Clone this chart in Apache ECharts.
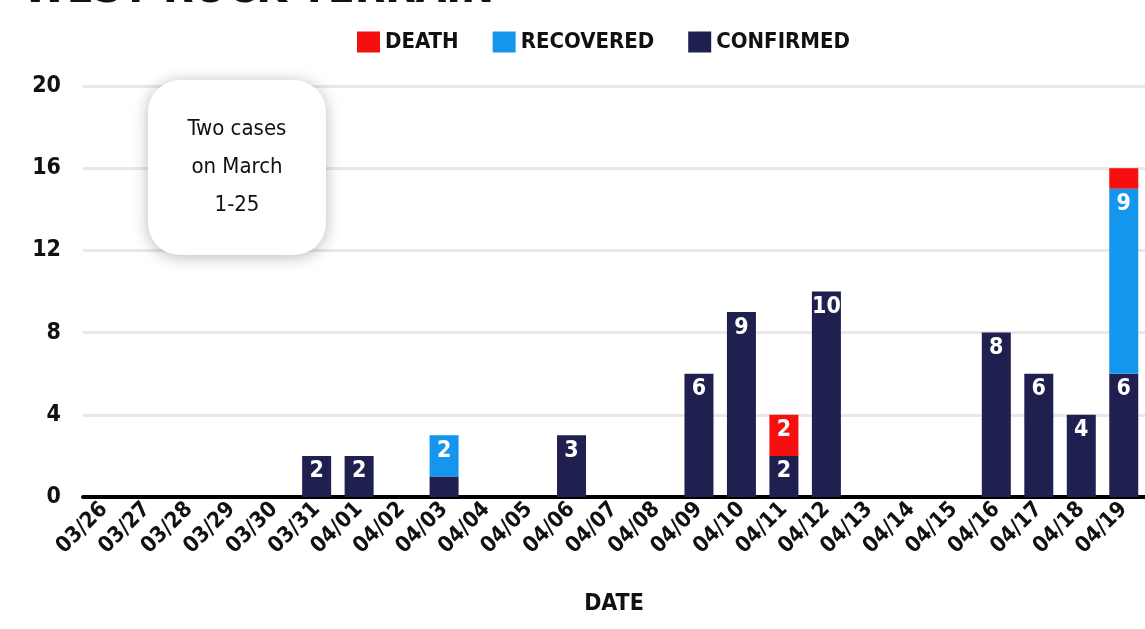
<!DOCTYPE html>
<html>
<head>
<meta charset="utf-8">
<script src="https://cdn.jsdelivr.net/npm/echarts@6/dist/echarts.min.js"></script>
<style>
html,body{margin:0;padding:0;background:#fff;}
#chart{width:1145px;height:629px;}
</style>
</head>
<body>
<div id="chart"></div>
<script>
const dates = ['03/26','03/27','03/28','03/29','03/30','03/31','04/01','04/02','04/03','04/04','04/05','04/06','04/07','04/08','04/09','04/10','04/11','04/12','04/13','04/14','04/15','04/16','04/17','04/18','04/19'];
const confirmed = [0,0,0,0,0,2,2,0,1,0,0,3,0,0,6,9,2,10,0,0,0,8,6,4,6];
const recovered = [0,0,0,0,0,0,0,0,2,0,0,0,0,0,0,0,0,0,0,0,0,0,0,0,9];
const death     = [0,0,0,0,0,0,0,0,0,0,0,0,0,0,0,0,2,0,0,0,0,0,0,0,1];
const yTicks = [0,4,8,12,16,20];

const FONT = '"DejaVu Sans Condensed","Liberation Sans Narrow",sans-serif';
const labelCfg = {
  show: true, position: 'insideTop', color: '#fff', fontFamily: FONT,
  fontWeight: 'bold', fontSize: 23, distance: 4,
  formatter: p => (p.value >= 2 ? String(p.value) : '')
};

const chart = echarts.init(document.getElementById('chart'));
chart.setOption({
  animation: false,
  backgroundColor: '#fff',
  title: {
    text: 'WEST ROCK TERRAIN', left: 18, top: -36,
    textStyle: { fontFamily: FONT, fontWeight: 'bold', fontSize: 44, color: '#111' }
  },
  legend: {
    data: ['DEATH','RECOVERED','CONFIRMED'],
    top: 26, left: 352,
    icon: 'rect',
    itemWidth: 23, itemHeight: 21, itemGap: 34,
    textStyle: { fontFamily: FONT, fontWeight: 'bold', fontSize: 22, color: '#111' }
  },
  grid: { left: 83, right: -1, top: 86, bottom: 132, containLabel: false },
  xAxis: {
    type: 'category', data: dates,
    name: 'DATE', nameLocation: 'middle', nameGap: 96,
    nameTextStyle: { fontFamily: FONT, fontWeight: 'bold', fontSize: 23, color: '#111' },
    axisLine: { lineStyle: { color: '#000', width: 4 } },
    axisTick: { show: false },
    axisLabel: { rotate: 45, interval: 0, margin: 9, fontFamily: FONT, fontWeight: 'bold', fontSize: 22, color: '#111' }
  },
  yAxis: {
    type: 'value', min: 0, max: 20, interval: 4,
    axisLine: { show: false }, axisTick: { show: false },
    axisLabel: { margin: 22, fontFamily: FONT, fontWeight: 'bold', fontSize: 23, color: '#111',
      formatter: v => (yTicks.includes(v) ? String(v) : '') },
    splitLine: { lineStyle: { color: '#e8e8e8', width: 3 } }
  },
  series: [
    { name: 'CONFIRMED', type: 'bar', stack: 'a', data: confirmed, barWidth: 29,
      itemStyle: { color: '#1f2050' }, label: labelCfg },
    { name: 'RECOVERED', type: 'bar', stack: 'a', data: recovered, barWidth: 29,
      itemStyle: { color: '#1596ee' }, label: labelCfg },
    { name: 'DEATH', type: 'bar', stack: 'a', data: death, barWidth: 29,
      itemStyle: { color: '#f50f0f' }, label: labelCfg }
  ],
  graphic: [
    { type: 'rect', left: 148, top: 80, z: 10,
      shape: { width: 178, height: 175, r: 32 },
      style: { fill: '#fff', shadowBlur: 16, shadowColor: 'rgba(0,0,0,0.28)', shadowOffsetY: 2 } },
    { type: 'text', z: 11, x: 237, y: 167,
      style: { text: 'Two cases\non March\n1-25', align: 'center', verticalAlign: 'middle',
        fontFamily: FONT, fontSize: 22, lineHeight: 38, fill: '#111' } }
  ]
});
</script>
</body>
</html>
